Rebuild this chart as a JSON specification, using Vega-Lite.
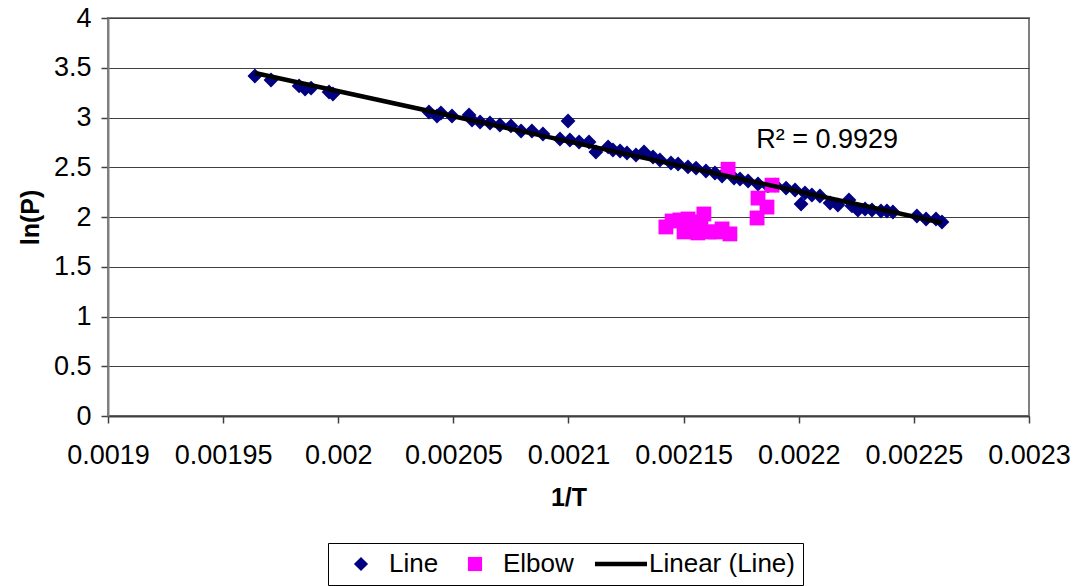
{
  "$schema": "https://vega.github.io/schema/vega-lite/v6.json",
  "autosize": {"type": "none"},
  "width": 921,
  "height": 398,
  "padding": {"left": 108, "top": 18, "right": 50, "bottom": 170},
  "background": "white",
  "config": {
    "font": "Liberation Sans",
    "view": {"stroke": "#808080", "strokeWidth": 2},
    "axis": {
      "labelFont": "Liberation Sans",
      "labelFontSize": 27,
      "labelColor": "black",
      "titleFont": "Liberation Sans",
      "titleFontSize": 25,
      "titleFontWeight": "bold",
      "titleColor": "black",
      "tickColor": "#404040",
      "tickSize": 7,
      "tickWidth": 1.5,
      "domainColor": "#404040",
      "domainWidth": 2
    },
    "legend": {
      "labelFont": "Liberation Sans",
      "labelFontSize": 26,
      "labelColor": "black"
    }
  },
  "data": {
    "values": [
      {"series": "Line", "invT": 0.0019638, "lnP": 3.417},
      {"series": "Line", "invT": 0.0019708, "lnP": 3.377},
      {"series": "Line", "invT": 0.001983, "lnP": 3.317},
      {"series": "Line", "invT": 0.0019856, "lnP": 3.286},
      {"series": "Line", "invT": 0.0019882, "lnP": 3.296},
      {"series": "Line", "invT": 0.001996, "lnP": 3.256},
      {"series": "Line", "invT": 0.0019977, "lnP": 3.236},
      {"series": "Line", "invT": 0.0020394, "lnP": 3.055},
      {"series": "Line", "invT": 0.0020429, "lnP": 3.015},
      {"series": "Line", "invT": 0.0020446, "lnP": 3.045},
      {"series": "Line", "invT": 0.0020494, "lnP": 3.015},
      {"series": "Line", "invT": 0.0020568, "lnP": 3.025},
      {"series": "Line", "invT": 0.0020581, "lnP": 2.975},
      {"series": "Line", "invT": 0.0020616, "lnP": 2.955},
      {"series": "Line", "invT": 0.0020659, "lnP": 2.945},
      {"series": "Line", "invT": 0.0020702, "lnP": 2.925},
      {"series": "Line", "invT": 0.002075, "lnP": 2.915},
      {"series": "Line", "invT": 0.0020794, "lnP": 2.864},
      {"series": "Line", "invT": 0.0020841, "lnP": 2.864},
      {"series": "Line", "invT": 0.0020889, "lnP": 2.834},
      {"series": "Line", "invT": 0.0020963, "lnP": 2.784},
      {"series": "Line", "invT": 0.0020998, "lnP": 2.965},
      {"series": "Line", "invT": 0.0021006, "lnP": 2.774},
      {"series": "Line", "invT": 0.0021046, "lnP": 2.754},
      {"series": "Line", "invT": 0.0021089, "lnP": 2.754},
      {"series": "Line", "invT": 0.0021119, "lnP": 2.653},
      {"series": "Line", "invT": 0.0021172, "lnP": 2.704},
      {"series": "Line", "invT": 0.0021193, "lnP": 2.673},
      {"series": "Line", "invT": 0.0021224, "lnP": 2.663},
      {"series": "Line", "invT": 0.0021254, "lnP": 2.643},
      {"series": "Line", "invT": 0.0021293, "lnP": 2.623},
      {"series": "Line", "invT": 0.0021328, "lnP": 2.653},
      {"series": "Line", "invT": 0.0021367, "lnP": 2.603},
      {"series": "Line", "invT": 0.0021397, "lnP": 2.573},
      {"series": "Line", "invT": 0.0021445, "lnP": 2.543},
      {"series": "Line", "invT": 0.0021476, "lnP": 2.533},
      {"series": "Line", "invT": 0.0021519, "lnP": 2.503},
      {"series": "Line", "invT": 0.0021554, "lnP": 2.492},
      {"series": "Line", "invT": 0.0021597, "lnP": 2.462},
      {"series": "Line", "invT": 0.0021636, "lnP": 2.442},
      {"series": "Line", "invT": 0.0021667, "lnP": 2.412},
      {"series": "Line", "invT": 0.0021719, "lnP": 2.392},
      {"series": "Line", "invT": 0.0021745, "lnP": 2.382},
      {"series": "Line", "invT": 0.002178, "lnP": 2.362},
      {"series": "Line", "invT": 0.0021823, "lnP": 2.332},
      {"series": "Line", "invT": 0.0021866, "lnP": 2.312},
      {"series": "Line", "invT": 0.0021897, "lnP": 2.322},
      {"series": "Line", "invT": 0.0021945, "lnP": 2.291},
      {"series": "Line", "invT": 0.0021984, "lnP": 2.271},
      {"series": "Line", "invT": 0.002201, "lnP": 2.131},
      {"series": "Line", "invT": 0.0022027, "lnP": 2.241},
      {"series": "Line", "invT": 0.0022057, "lnP": 2.221},
      {"series": "Line", "invT": 0.0022092, "lnP": 2.211},
      {"series": "Line", "invT": 0.0022136, "lnP": 2.141},
      {"series": "Line", "invT": 0.002217, "lnP": 2.121},
      {"series": "Line", "invT": 0.0022218, "lnP": 2.171},
      {"series": "Line", "invT": 0.0022231, "lnP": 2.111},
      {"series": "Line", "invT": 0.0022257, "lnP": 2.07},
      {"series": "Line", "invT": 0.0022288, "lnP": 2.08},
      {"series": "Line", "invT": 0.0022318, "lnP": 2.07},
      {"series": "Line", "invT": 0.0022357, "lnP": 2.06},
      {"series": "Line", "invT": 0.0022383, "lnP": 2.06},
      {"series": "Line", "invT": 0.0022409, "lnP": 2.05},
      {"series": "Line", "invT": 0.0022513, "lnP": 2.01},
      {"series": "Line", "invT": 0.0022553, "lnP": 1.98},
      {"series": "Line", "invT": 0.0022596, "lnP": 1.98},
      {"series": "Line", "invT": 0.0022622, "lnP": 1.95},
      {"series": "Elbow", "invT": 0.0021423, "lnP": 1.9},
      {"series": "Elbow", "invT": 0.002145, "lnP": 1.96},
      {"series": "Elbow", "invT": 0.0021484, "lnP": 1.97},
      {"series": "Elbow", "invT": 0.0021519, "lnP": 1.98},
      {"series": "Elbow", "invT": 0.0021502, "lnP": 1.85},
      {"series": "Elbow", "invT": 0.0021545, "lnP": 1.92},
      {"series": "Elbow", "invT": 0.0021575, "lnP": 1.95},
      {"series": "Elbow", "invT": 0.0021588, "lnP": 2.03},
      {"series": "Elbow", "invT": 0.0021562, "lnP": 1.84},
      {"series": "Elbow", "invT": 0.002161, "lnP": 1.85},
      {"series": "Elbow", "invT": 0.002164, "lnP": 1.85},
      {"series": "Elbow", "invT": 0.0021667, "lnP": 1.88},
      {"series": "Elbow", "invT": 0.0021701, "lnP": 1.83},
      {"series": "Elbow", "invT": 0.0021693, "lnP": 2.48},
      {"series": "Elbow", "invT": 0.0021884, "lnP": 2.32},
      {"series": "Elbow", "invT": 0.0021823, "lnP": 2.19},
      {"series": "Elbow", "invT": 0.0021862, "lnP": 2.1},
      {"series": "Elbow", "invT": 0.0021819, "lnP": 1.99}
    ]
  },
  "encoding": {
    "x": {
      "field": "invT",
      "type": "quantitative",
      "title": "1/T",
      "scale": {"domain": [0.0019, 0.0023], "nice": false, "zero": false},
      "axis": {
        "values": [0.0019, 0.00195, 0.002, 0.00205, 0.0021, 0.00215, 0.0022, 0.00225, 0.0023],
        "format": "~g",
        "grid": false,
        "labelPadding": 19,
        "titlePadding": 17,
        "labelFlush": false
      }
    },
    "y": {
      "field": "lnP",
      "type": "quantitative",
      "title": "ln(P)",
      "scale": {"domain": [0, 4], "nice": false},
      "axis": {
        "values": [0, 0.5, 1, 1.5, 2, 2.5, 3, 3.5, 4],
        "format": "~g",
        "grid": true,
        "gridColor": "#404040",
        "gridWidth": 1.2,
        "gridOpacity": 1,
        "labelPadding": 10,
        "titlePadding": 10,
        "domainColor": "#808080",
        "labelFlush": false
      }
    }
  },
  "layer": [
    {
      "mark": {"type": "point", "filled": true, "opacity": 1, "size": 220},
      "encoding": {
        "color": {
          "field": "series",
          "type": "nominal",
          "title": null,
          "scale": {"domain": ["Line", "Elbow", "Linear (Line)"], "range": ["#000080", "#FF00FF", "#000000"]},
          "legend": {
            "orient": "none",
            "legendX": 220,
            "legendY": 525,
            "direction": "horizontal",
            "padding": 8,
            "columnPadding": 11,
            "labelOffset": 15,
            "symbolOffset": 12,
            "symbolSize": 200,
            "strokeColor": "#000000",
            "fillColor": "white",
            "symbolOpacity": 1,
            "encode": {
              "symbols": {
                "update": {
                  "stroke": {"signal": "datum.value === 'Linear (Line)' ? '#000000' : 'transparent'"},
                  "strokeWidth": {"signal": "datum.value === 'Linear (Line)' ? 4.5 : 0"}
                }
              }
            }
          }
        },
        "shape": {
          "field": "series",
          "type": "nominal",
          "title": null,
          "scale": {"domain": ["Line", "Elbow", "Linear (Line)"], "range": ["diamond", "square", "M-3.68,0H3.68"]}
        }
      }
    },
    {
      "transform": [
        {"filter": "datum.series === 'Line'"},
        {"regression": "lnP", "on": "invT"}
      ],
      "mark": {"type": "line", "color": "black", "strokeWidth": 4.5},
      "encoding": {}
    },
    {
      "data": {"values": [{"invT": 0.0022123, "lnP": 2.774, "label": "R² = 0.9929"}]},
      "mark": {"type": "text", "fontSize": 27, "font": "Liberation Sans", "color": "black"},
      "encoding": {"text": {"field": "label"}}
    }
  ]
}
